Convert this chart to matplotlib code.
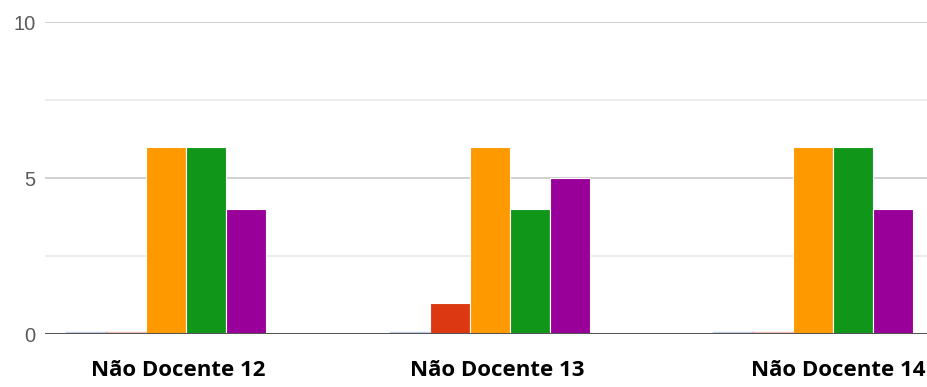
import matplotlib.pyplot as plt
import numpy as np

groups = ["Não Docente 12", "Não Docente 13", "Não Docente 14"]
series_colors = ["#3366cc", "#dc3912", "#ff9900", "#109618", "#990099"]
values = [
    [0, 0, 0],   # blue
    [0, 1, 0],   # red
    [6, 6, 6],   # orange
    [6, 4, 6],   # green
    [4, 5, 4],   # purple
]
yticks = [0, 5, 10]

fig = plt.figure(figsize=(9.28, 3.87), dpi=100)
ax = fig.add_axes([45 / 928, 53 / 387, 1 - 45 / 928, 312 / 387])

x = np.arange(len(groups))
w = 0.1237
for i, (vals, c) in enumerate(zip(values, series_colors)):
    ax.bar(x + (i - 2) * w, vals, width=w, color=c, edgecolor="white",
           linewidth=0.8, zorder=3)
    # zero-height bars still show as a faint line in the original
    for xi, v in zip(x, vals):
        if v == 0:
            ax.plot([xi + (i - 2) * w - w / 2, xi + (i - 2) * w + w / 2], [0.06, 0.06],
                    color=c, lw=1, alpha=0.3, zorder=4)

ax.set_xlim(-0.374, 2.355)
ax.set_ylim(0, 10)

for yv in [2.5, 7.5]:
    ax.axhline(yv, color="#ebebeb", lw=1.4, zorder=1)
for yv in [5, 10]:
    ax.axhline(yv, color="#d0d0d0", lw=1.4, zorder=1)
ax.axhline(0, color="#555555", lw=2.2, zorder=5)

ax.set_yticks(yticks)
ax.set_yticklabels([str(t) for t in yticks], fontsize=14.5, color="#5a5a5a",
                   family="Liberation Sans")
ax.tick_params(axis="y", length=0, pad=7)
ax.set_xticks([])
for s in ax.spines.values():
    s.set_visible(False)

label_x = [178, 497, 838]
for lx, g in zip(label_x, groups):
    fig.text(lx / 928, 1 - 371 / 387, g, ha="center", va="center",
             fontsize=16, fontweight="bold", family="Open Sans", color="black")

fig.savefig("out.png", dpi=100)
